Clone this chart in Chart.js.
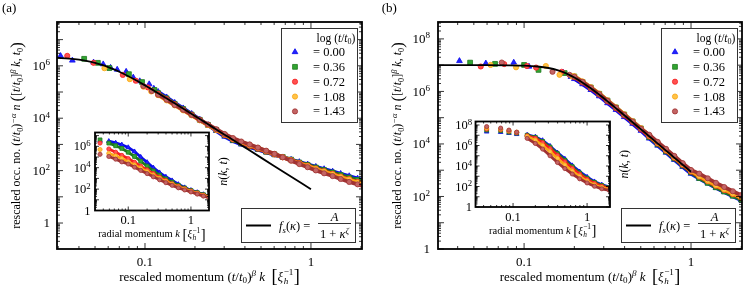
<!DOCTYPE html>
<html lang="en">
  <head>
    <meta charset="UTF-8" />
    <meta name="viewport" content="width=device-width, initial-scale=1.0" />
    <script src="https://cdn.jsdelivr.net/npm/chart.js"></script>
    <title>Rescaled occupation number</title>
    <style>
      body { margin: 0; background: #fff; }
      #fig { position: relative; width: 748px; height: 290px; overflow: hidden; }
      #fig canvas { position: absolute; }
    </style>
  </head>

  <body>
    <div id="fig">
      <canvas id="mainA" width="374" height="290" style="left:0px;top:0px"></canvas>
      <canvas id="mainB" width="374" height="290" style="left:374px;top:0px"></canvas>
      <canvas id="insetA" width="200" height="125" style="left:40px;top:118px"></canvas>
      <canvas id="insetB" width="220" height="130" style="left:420px;top:110px"></canvas>
    </div>

    <script>
      // legend values, log(t/t0)
      const logT = ["0.00", "0.36", "0.72", "1.08", "1.43"];

      // ---- panel (a), main: fit curve
      const fitA = [[0.0295, 2.03e6], [0.035, 1.88e6], [0.04, 1.71e6], [0.045, 1.51e6], [0.05, 1.29e6], [0.055, 1.08e6],
        [0.06, 8.95e5], [0.065, 7.3e5], [0.07, 5.95e5], [0.08, 3.92e5], [0.09, 2.63e5], [0.1, 1.79e5], [0.11, 1.26e5],
        [0.12, 9.05e4], [0.15, 3.8e4], [0.2, 1.22e4], [0.25, 4.99e3], [0.3, 2.41e3], [0.4, 764], [0.5, 313], [0.7, 81], [1.0, 19.5]];
      // sparse points at small momentum
      const aBlueLow = [[0.031, 2.4e6], [0.0365, 1.6e6], [0.049, 1.35e6], [0.056, 1.15e6], [0.062, 8.5e5], [0.068, 7.2e5],
        [0.077, 6.0e5], [0.085, 3.6e5], [0.093, 2.6e5], [0.106, 2.0e5], [0.113, 1.35e5]];
      const aGreenLow = [[0.043, 1.85e6], [0.052, 1.3e6], [0.061, 8.2e5], [0.08, 4.8e5], [0.096, 2.4e5], [0.114, 1.2e5]];
      const aRedLow = [[0.034, 2.4e6], [0.049, 1.3e6], [0.0735, 4.5e5], [0.088, 2.7e5], [0.104, 1.5e5]];
      const aOrangeLow = [[0.057, 8.1e5], [0.081, 3.1e5], [0.098, 1.6e5], [0.109, 1.05e5]];
      const aBrownLow = [[0.0977, 1.7e5], [0.11, 1.1e5]];
      // dense part
      const kGridA = [0.120, 0.135, 0.151, 0.170, 0.191, 0.214, 0.240, 0.269, 0.302, 0.339, 0.380, 0.427, 0.479,
        0.537, 0.603, 0.676, 0.759, 0.851, 0.955, 1.07, 1.20, 1.35, 1.51, 1.70, 1.91, 2.09];
      const aBlue = [1.02e5, 6.3e4, 3.9e4, 2.4e4, 1.48e4, 8.9e3, 5.5e3, 3.3e3, 2.0e3, 1.35e3, 1.0e3, 794, 631, 501, 398, 324, 263, 214, 174, 141, 115, 93, 76, 62, 50, 43];
      const aGreen = [9.1e4, 5.75e4, 3.55e4, 2.24e4, 1.38e4, 8.7e3, 5.5e3, 3.55e3, 2.24e3, 1.48e3, 1.1e3, 851, 676, 525, 417, 331, 263, 204, 166, 132, 105, 85, 68, 54, 44, 37];
      const aRed = [8.5e4, 5.4e4, 3.4e4, 2.1e4, 1.35e4, 8.5e3, 5.5e3, 3.55e3, 2.3e3, 1.55e3, 1.15e3, 891, 692, 537, 417, 324, 251, 195, 155, 120, 95, 76, 59, 47, 37, 32];
      const aOrange = [7.6e4, 4.8e4, 3.1e4, 2.0e4, 1.29e4, 8.3e3, 5.5e3, 3.6e3, 2.4e3, 1.66e3, 1.23e3, 955, 741, 562, 427, 324, 245, 186, 148, 115, 91, 72, 56, 45, 35, 30];
      const aBrown = [7.9e4, 5.1e4, 3.2e4, 2.1e4, 1.35e4, 8.7e3, 5.75e3, 3.8e3, 2.5e3, 1.74e3, 1.29e3, 1.0e3, 759, 575, 437, 324, 240, 178, 135, 102, 79, 62, 48, 37, 30, 25];

      // ---- panel (a), inset: raw radial momentum
      const kInA = [0.0355, 0.049, 0.063, 0.079, 0.100, 0.126, 0.158, 0.200, 0.251, 0.316, 0.398, 0.501, 0.631, 0.794, 1.00, 1.26, 1.58, 1.95, 2.10];
      const iaBlue = [3.2e6, 3.0e6, 2.1e6, 1.41e6, 7.9e5, 3.2e5, 1.0e5, 3.2e4, 1.0e4, 3.5e3, 1.41e3, 631, 282, 141, 79, 50, 32, 22, 20];
      const iaGreen = [4.0e6, 2.0e6, 1.12e6, 6.3e5, 2.8e5, 1.12e5, 4.0e4, 1.41e4, 5.0e3, 2.0e3, 891, 447, 224, 126, 74, 47, 30, 21, 19];
      const iaRed = [2.0e6, 5.6e5, 2.8e5, 1.41e5, 7.1e4, 3.2e4, 1.41e4, 6.3e3, 2.8e3, 1.26e3, 631, 316, 178, 105, 66, 42, 27, 19, 17];
      const iaOrange = [5.0e5, 2.2e5, 1.26e5, 7.1e4, 3.5e4, 1.78e4, 8.9e3, 4.2e3, 2.0e3, 1.0e3, 525, 282, 158, 95, 60, 38, 25, 17, 15.5];
      const iaBrown = [1.78e5, 1.12e5, 6.3e4, 3.5e4, 2.2e4, 1.12e4, 5.6e3, 2.8e3, 1.41e3, 741, 398, 224, 132, 83, 54, 34, 22, 15.8, 14];

      // ---- panel (b), main
      const fitB = [[0.0305, 1.0e7], [0.06, 9.97e6], [0.08, 9.86e6], [0.1, 9.56e6], [0.12, 8.9e6], [0.14, 7.8e6], [0.16, 6.3e6],
        [0.18, 4.78e6], [0.2, 3.4e6], [0.22, 2.36e6], [0.25, 1.34e6], [0.27, 9.3e5], [0.3, 5.5e5], [0.35, 2.46e5],
        [0.4, 1.21e5], [0.5, 3.65e4], [0.6, 1.37e4], [0.7, 5.97e3], [0.8, 2.9e3], [1.0, 870]];
      const bBlueLow = [[0.041, 1.45e7], [0.059, 1.17e7], [0.0867, 1.26e7], [0.107, 8.9e6], [0.171, 5.3e6], [0.191, 3.6e6]];
      const bGreenLow = [[0.0475, 1.25e7], [0.067, 1.12e7], [0.1, 1.02e7], [0.122, 6.6e6], [0.175, 5.0e6]];
      const bRedLow = [[0.055, 8.9e6], [0.076, 1.1e7], [0.104, 9.3e6], [0.118, 8.1e6], [0.168, 5.6e6]];
      const bOrangeLow = [[0.063, 1.02e7], [0.0895, 8.3e6], [0.135, 9.3e6], [0.163, 4.3e6], [0.193, 3.8e6]];
      const bBrownLow = [[0.0735, 1.26e7], [0.148, 5.6e6], [0.187, 4.3e6]];
      const kGridB = [0.200, 0.224, 0.251, 0.282, 0.316, 0.355, 0.398, 0.447, 0.501, 0.562, 0.631, 0.708, 0.794, 0.891,
        1.00, 1.12, 1.26, 1.41, 1.58, 1.78, 2.00, 2.19];
      const bBlue = [3.0e6, 1.9e6, 1.15e6, 6.6e5, 3.6e5, 2.0e5, 1.07e5, 5.9e4, 3.2e4, 1.62e4, 8.7e3, 4.7e3, 2.5e3, 1.35e3, 741, 479, 316, 214, 148, 102, 72, 56];
      const bGreen = [3.7e6, 2.3e6, 1.41e6, 8.1e5, 4.5e5, 2.45e5, 1.32e5, 7.2e4, 3.9e4, 1.82e4, 9.8e3, 5.2e3, 2.8e3, 1.51e3, 832, 501, 331, 224, 155, 107, 76, 59];
      const bRed = [3.5e6, 2.2e6, 1.32e6, 7.6e5, 4.2e5, 2.3e5, 1.23e5, 6.8e4, 3.6e4, 1.95e4, 1.05e4, 5.6e3, 3.0e3, 1.62e3, 891, 575, 380, 257, 178, 123, 87, 68];
      const bOrange = [3.8e6, 2.4e6, 1.45e6, 8.3e5, 4.6e5, 2.5e5, 1.35e5, 7.4e4, 4.0e4, 2.1e4, 1.12e4, 6.0e3, 3.2e3, 1.74e3, 955, 603, 398, 269, 186, 129, 91, 71];
      const bBrown = [3.6e6, 2.3e6, 1.38e6, 7.9e5, 4.4e5, 2.4e5, 1.29e5, 7.1e4, 3.8e4, 2.24e4, 1.2e4, 6.5e3, 3.5e3, 1.86e3, 1.02e3, 741, 490, 331, 229, 158, 112, 87];

      // ---- panel (b), inset
      const kInB = [0.044, 0.068, 0.088, 0.112, 0.155, 0.200, 0.251, 0.316, 0.398, 0.501, 0.631, 0.794, 1.00, 1.26, 1.58, 2.00, 2.29];
      const ibBlue = [2.2e7, 2.0e7, 1.6e7, 1.26e7, 1.1e7, 7.1e6, 3.2e6, 8.9e5, 2.0e5, 5.0e4, 1.12e4, 2.8e3, 851, 302, 148, 91, 72];
      const ibGreen = [3.2e7, 2.8e7, 2.0e7, 1.6e7, 1.0e7, 6.3e6, 2.5e6, 7.1e5, 1.6e5, 3.7e4, 8.5e3, 2.1e3, 661, 251, 126, 79, 63];
      const ibRed = [4.0e7, 3.5e7, 2.5e7, 1.8e7, 8.9e6, 5.0e6, 1.9e6, 5.0e5, 1.12e5, 2.5e4, 5.9e3, 1.58e3, 501, 200, 105, 68, 55];
      const ibOrange = [5.0e7, 4.0e7, 2.8e7, 2.0e7, 7.6e6, 3.2e6, 1.0e6, 2.5e5, 5.6e4, 1.26e4, 3.2e3, 933, 331, 141, 79, 54, 46];
      const ibBrown = [7.0e7, 5.0e7, 3.2e7, 2.0e7, 5.0e6, 1.58e6, 4.5e5, 1.0e5, 2.2e4, 5.6e3, 1.66e3, 562, 224, 105, 60, 42, 35];

      // ------------------------------------------------------------------
      const FONT = '"Liberation Serif", "DejaVu Serif", serif';
      const MINUS = "\u2212";
      const STYLE = [
        { shape: "triangle", r: 3.3, line: "rgb(10,10,235)", fill: "rgb(35,35,255)" },
        { shape: "rect", r: 3.4, line: "rgb(30,120,30)", fill: "rgb(50,165,50)" },
        { shape: "circle", r: 2.6, line: "rgb(245,30,30)", fill: "rgb(255,80,80)" },
        { shape: "circle", r: 2.6, line: "rgb(250,165,20)", fill: "rgb(255,195,70)" },
        { shape: "circle", r: 2.6, line: "rgb(160,50,50)", fill: "rgb(195,100,100)" },
      ];

      // rich text: t text, f flags (i italic, ^ sup, _ sub, B big), sub/sup stacked after the glyph
      function P(t, f = "", sub, sup) { return { t, f, sub, sup }; }

      function drawRich(ctx, parts, x, y, size, align = "center") {
        const items = [];
        let w = 0;
        for (const p of parts) {
          let s = size, dy = 0;
          if (p.f.includes("^")) { s = size * 0.7; dy = -size * 0.36; }
          else if (p.f.includes("_")) { s = size * 0.7; dy = size * 0.2; }
          else if (p.f.includes("B")) { s = size * 1.4; dy = size * 0.12; }
          const font = (p.f.includes("i") ? "italic " : "") + s + "px " + FONT;
          ctx.font = font;
          const tw = ctx.measureText(p.t).width;
          const it = { p, font, dy, x: w, w: tw, extra: 0 };
          if (p.sub || p.sup) {
            it.ss = size * 0.7;
            ctx.font = "italic " + it.ss + "px " + FONT;
            const w1 = p.sub ? ctx.measureText(p.sub).width : 0;
            ctx.font = it.ss + "px " + FONT;
            const w2 = p.sup ? ctx.measureText(p.sup).width : 0;
            it.extra = Math.max(w1, w2) + 1;
          }
          items.push(it);
          w += tw + it.extra;
        }
        const x0 = align === "center" ? x - w / 2 : align === "right" ? x - w : x;
        const base = y + size * 0.32;
        ctx.textAlign = "left";
        ctx.textBaseline = "alphabetic";
        for (const it of items) {
          ctx.font = it.font;
          ctx.fillText(it.p.t, x0 + it.x, base + it.dy);
          if (it.extra) {
            const sx = x0 + it.x + it.w + 0.5;
            if (it.p.sub) { ctx.font = "italic " + it.ss + "px " + FONT; ctx.fillText(it.p.sub, sx, base + size * 0.28); }
            if (it.p.sup) { ctx.font = it.ss + "px " + FONT; ctx.fillText(it.p.sup, sx, base - size * 0.42); }
          }
        }
        return w;
      }

      const xTitle = [P("rescaled momentum ("), P("t", "i"), P("/"), P("t", "i"), P("0", "_"), P(")"), P("β", "i^"),
        P(" "), P("k", "i"), P("  "), P("[", "B"), P("ξ", "i", "h", MINUS + "1"), P("]", "B")];
      const yTitle = [P("rescaled occ. no. ("), P("t", "i"), P("/"), P("t", "i"), P("0", "_"), P(")"), P(MINUS + "α", "i^"),
        P(" "), P("n", "i"), P(" "), P("(", "B"), P("["), P("t", "i"), P("/"), P("t", "i"), P("0", "_"), P("]"), P("β", "i^"),
        P(" "), P("k", "i"), P(", "), P("t", "i"), P("0", "_"), P(")", "B")];
      const inXTitle = [P("radial momentum "), P("k", "i"), P(" "), P("[", "B"), P("ξ", "i", "h", MINUS + "1"), P("]", "B")];
      const nkt = [P("n", "i"), P("("), P("k", "i"), P(", "), P("t", "i"), P(")")];
      const legTitle = [P("log ("), P("t", "i"), P("/"), P("t", "i"), P("0", "_"), P(")")];
      const fitLeft = [P("f", "i"), P("s", "i_"), P("("), P("κ", "i"), P(") =")];
      const denom = [P("1 + "), P("κ", "i"), P("ζ", "i^")];

      function marker(ctx, s, x, y, r) {
        ctx.beginPath();
        if (s.shape === "triangle") {
          for (let j = 0; j < 3; j++) {
            const a = j * 2 * Math.PI / 3;
            ctx[j ? "lineTo" : "moveTo"](x + Math.sin(a) * r, y - Math.cos(a) * r);
          }
          ctx.closePath();
        } else if (s.shape === "rect") {
          const h = r / Math.SQRT2;
          ctx.rect(x - h, y - h, 2 * h, 2 * h);
        } else {
          ctx.arc(x, y, r, 0, 2 * Math.PI);
        }
        ctx.fillStyle = s.fill; ctx.fill();
        ctx.strokeStyle = s.line; ctx.lineWidth = 0.8; ctx.stroke();
      }

      function logTicks(min, max) {
        const out = [];
        for (let e = Math.floor(Math.log10(min)); e <= Math.ceil(Math.log10(max)); e++) {
          for (let m = 1; m <= 9; m++) {
            const v = m * Math.pow(10, e);
            if (v >= min * 0.999 && v <= max * 1.001) out.push({ v, major: m === 1 });
          }
        }
        return out;
      }

      function seg(ctx, x1, y1, x2, y2) { ctx.beginPath(); ctx.moveTo(x1, y1); ctx.lineTo(x2, y2); ctx.stroke(); }

      function legends(ctx, a) {
        // time legend
        let L = a.right - 81, T = a.top + 6;
        ctx.fillStyle = "#fff"; ctx.fillRect(L, T, 76, 94);
        ctx.strokeStyle = "#333"; ctx.lineWidth = 1; ctx.strokeRect(L + 0.5, T + 0.5, 76, 94);
        ctx.fillStyle = "#000";
        drawRich(ctx, legTitle, L + 55, T + 10, 11.5);
        STYLE.forEach((s, i) => {
          const yy = T + 24 + i * 14.85;
          marker(ctx, s, L + 14, yy, s.r);
          ctx.fillStyle = "#000";
          drawRich(ctx, [P("= " + logT[i])], L + 32, yy, 12.5, "left");
        });
        // fit legend
        L = a.right - 121; T = a.bottom - 41;
        ctx.fillStyle = "#fff"; ctx.fillRect(L, T, 114, 34);
        ctx.strokeStyle = "#333"; ctx.lineWidth = 1; ctx.strokeRect(L + 0.5, T + 0.5, 114, 34);
        ctx.strokeStyle = "#000"; ctx.lineWidth = 2; seg(ctx, L + 5, T + 17.5, L + 30, T + 17.5);
        ctx.fillStyle = "#000";
        drawRich(ctx, fitLeft, L + 38, T + 18, 12.5, "left");
        drawRich(ctx, [P("A", "i")], L + 93.5, T + 8.5, 12.5);
        ctx.lineWidth = 0.8; seg(ctx, L + 77, T + 15.5, L + 110, T + 15.5);
        drawRich(ctx, denom, L + 93.5, T + 26, 12.5);
      }

      function decor(o) {
        return {
          id: "decor",
          beforeDraw(chart) {
            if (!o.inset) return;
            const a = chart.chartArea, ctx = chart.ctx;
            ctx.save(); ctx.fillStyle = "#fff";
            ctx.fillRect(a.left, a.top, a.right - a.left, a.bottom - a.top);
            ctx.restore();
          },
          afterDraw(chart) {
            const { ctx, chartArea: a, scales: { x, y } } = chart;
            ctx.save();
            ctx.strokeStyle = "#000"; ctx.lineWidth = 0.8;
            for (const t of logTicks(x.min, x.max)) {
              const px = x.getPixelForValue(t.v), L = t.major ? o.tl[0] : o.tl[1];
              seg(ctx, px, a.bottom, px, a.bottom - L); seg(ctx, px, a.top, px, a.top + L);
            }
            for (const t of logTicks(y.min, y.max)) {
              const py = y.getPixelForValue(t.v), L = t.major ? o.tl[0] : o.tl[1];
              seg(ctx, a.left, py, a.left + L, py); seg(ctx, a.right, py, a.right - L, py);
            }
            ctx.lineWidth = o.frame;
            ctx.strokeRect(a.left, a.top, a.right - a.left, a.bottom - a.top);
            ctx.fillStyle = "#000";
            for (const v of [0.1, 1]) {
              drawRich(ctx, [P(String(v))], x.getPixelForValue(v), a.bottom + o.xLabDy, o.font);
            }
            for (const v of o.yLab) {
              const e = Math.round(Math.log10(v));
              const parts = e === 0 ? [P("1")] : [P("10"), P(String(e), "^")];
              drawRich(ctx, parts, a.left - o.labGap, y.getPixelForValue(v), o.font, "right");
            }
            const cx = (a.left + a.right) / 2, cy = (a.top + a.bottom) / 2;
            if (o.inset) {
              drawRich(ctx, inXTitle, cx, a.bottom + 23.5, 10.5);
              ctx.save(); ctx.translate(a.right + 14, cy); ctx.rotate(-Math.PI / 2);
              drawRich(ctx, nkt, 0, 0, 12); ctx.restore();
            } else {
              drawRich(ctx, xTitle, cx, a.bottom + 27.5, 13);
              ctx.save(); ctx.translate(a.left - 40.5, cy); ctx.rotate(-Math.PI / 2);
              drawRich(ctx, yTitle, 0, 0, 12); ctx.restore();
              drawRich(ctx, [P(o.tag)], o.tagX, 8, 13, "left");
              legends(ctx, a);
            }
            ctx.restore();
          },
        };
      }

      const zip = (ks, ns) => ks.map((k, j) => [k, ns[j]]);

      function series(i, pts, sc, bw, from) {
        const s = STYLE[i];
        return {
          data: pts.map((p) => ({ x: p[0], y: p[1] })),
          showLine: true, borderColor: s.line, borderWidth: bw, clip: 0,
          segment: { borderColor: (c) => (c.p0.parsed.x < from ? "rgba(0,0,0,0)" : undefined) },
          pointStyle: s.shape, pointRadius: s.r * sc, pointBackgroundColor: s.fill,
          pointBorderColor: s.line, pointBorderWidth: 0.8,
        };
      }

      function fitLine(pts) {
        return {
          data: pts.map((p) => ({ x: p[0], y: p[1] })),
          showLine: true, borderColor: "#000", borderWidth: 1.8, pointRadius: 0,
          cubicInterpolationMode: "monotone", clip: 0,
        };
      }

      function build(id, datasets, xr, yr, pad, o) {
        const config = {
          type: "scatter",
          data: { datasets },
          options: {
            responsive: false, animation: false, events: [],
            layout: { padding: pad },
            plugins: { legend: { display: false }, tooltip: { enabled: false } },
            scales: {
              x: { type: "logarithmic", min: xr[0], max: xr[1], display: false },
              y: { type: "logarithmic", min: yr[0], max: yr[1], display: false },
            },
          },
          plugins: [decor(o)],
        };
        return new Chart(document.getElementById(id), config);
      }

      const order = [4, 3, 2, 1, 0]; // brown drawn on top, blue below
      const lowA = [aBlueLow, aGreenLow, aRedLow, aOrangeLow, aBrownLow];
      const denseA = [aBlue, aGreen, aRed, aOrange, aBrown];
      const lowB = [bBlueLow, bGreenLow, bRedLow, bOrangeLow, bBrownLow];
      const denseB = [bBlue, bGreen, bRed, bOrange, bBrown];
      const insA = [iaBlue, iaGreen, iaRed, iaOrange, iaBrown];
      const insB = [ibBlue, ibGreen, ibRed, ibOrange, ibBrown];

      build("mainA",
        [fitLine(fitA)].concat(order.map((i) => series(i, lowA[i].concat(zip(kGridA, denseA[i])), 1, 3.8, 0.118))),
        [0.0295, 2.03], [0.102, 4.7e7], { left: 57, top: 22, right: 12, bottom: 41 },
        { tag: "(a)", tagX: 2, yLab: [1, 1e2, 1e4, 1e6], tl: [6, 3], font: 13, labGap: 7, xLabDy: 12.7, frame: 1.8 });

      build("mainB",
        [fitLine(fitB)].concat(order.map((i) => series(i, lowB[i].concat(zip(kGridB, denseB[i])), 1, 3.8, 0.197))),
        [0.0305, 2.02], [1, 4.4e8], { left: 64, top: 22, right: 6, bottom: 41 },
        { tag: "(b)", tagX: 7.7, yLab: [1, 1e2, 1e4, 1e6, 1e8], tl: [6, 3], font: 13, labGap: 8, xLabDy: 12.5, frame: 1.8 });

      build("insetA",
        order.map((i) => series(i, zip(kInA, insA[i]), 0.8, 2.8, 0.045)),
        [0.0295, 1.94], [1, 1.95e7], { left: 55, top: 14.5, right: 31, bottom: 32.5 },
        { inset: true, yLab: [1, 1e2, 1e4, 1e6], tl: [4, 2], font: 12.5, labGap: 4.5, xLabDy: 9.5, frame: 1.8 });

      build("insetB",
        order.map((i) => series(i, zip(kInB, insB[i]), 0.8, 2.8, 0.15)),
        [0.0311, 2.04], [1, 2.2e8], { left: 55.5, top: 11.5, right: 30, bottom: 33 },
        { inset: true, yLab: [1, 1e2, 1e4, 1e6, 1e8], tl: [4, 2], font: 12.5, labGap: 3.5, xLabDy: 10, frame: 1.8 });
    </script>
  </body>
</html>
